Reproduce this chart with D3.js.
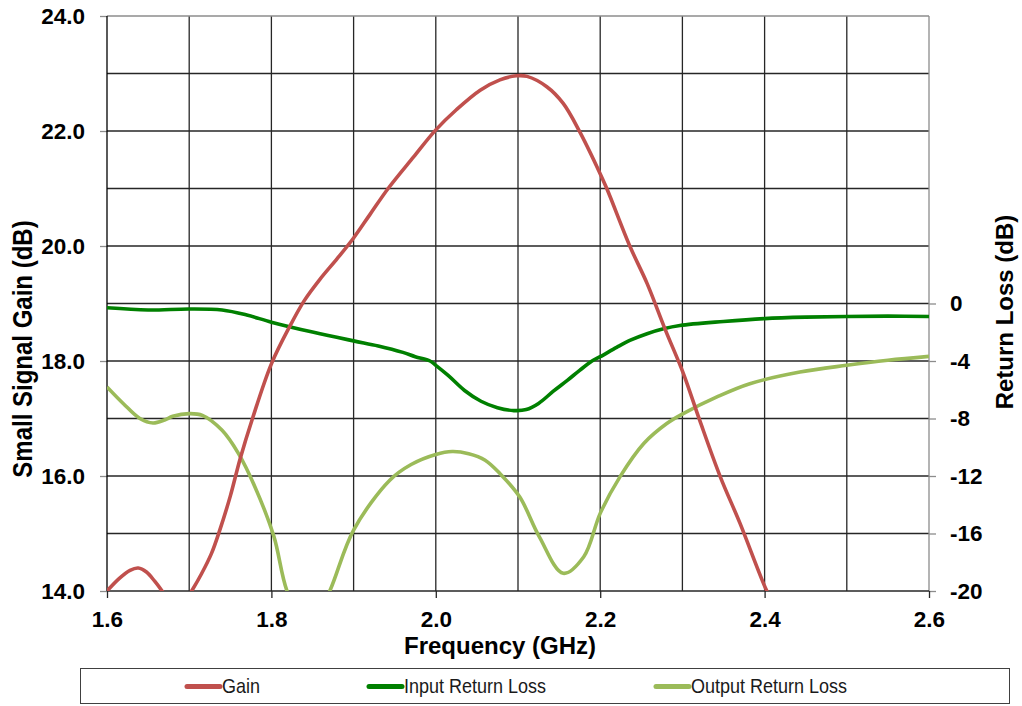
<!DOCTYPE html>
<html><head><meta charset="utf-8">
<script src="https://cdn.jsdelivr.net/npm/d3@7"></script>
<style>
body{margin:0;background:#fff;}
svg{display:block;font-family:"Liberation Sans",Arial,sans-serif;}
</style></head><body>
<svg id="c" width="1022" height="706"></svg>
<script>
// ---- data ----
const gainFreq = [1.600,1.615,1.628,1.638,1.648,1.658,1.668,1.685,1.703,1.715,1.727,1.737,1.750,1.762,1.777,1.800,1.823,1.840,1.859,1.880,1.900,1.920,1.942,1.973,2.000,2.025,2.054,2.078,2.098,2.111,2.135,2.155,2.175,2.196,2.208,2.236,2.257,2.279,2.301,2.321,2.346,2.370,2.402,2.420];
const gainVals = [14.00,14.22,14.36,14.40,14.33,14.17,13.98,13.60,14.00,14.30,14.65,15.05,15.65,16.30,17.00,17.95,18.62,19.05,19.42,19.78,20.14,20.55,21.00,21.55,22.02,22.37,22.71,22.89,22.96,22.95,22.77,22.48,21.99,21.38,21.00,20.00,19.35,18.55,17.79,16.97,15.99,15.18,14.02,13.50];

const inFreq = [1.60,1.65,1.70,1.74,1.77,1.80,1.85,1.90,1.93,1.96,1.975,1.993,2.000,2.015,2.035,2.055,2.075,2.095,2.110,2.125,2.143,2.160,2.175,2.190,2.200,2.220,2.236,2.257,2.277,2.297,2.35,2.40,2.45,2.50,2.55,2.60];
const inVals = [-0.30,-0.45,-0.38,-0.45,-0.80,-1.30,-1.99,-2.60,-2.95,-3.40,-3.70,-4.00,-4.30,-5.00,-6.05,-6.80,-7.25,-7.45,-7.38,-6.95,-6.10,-5.35,-4.65,-4.00,-3.70,-3.05,-2.57,-2.10,-1.76,-1.53,-1.25,-1.05,-0.95,-0.90,-0.88,-0.90];

const outFreq = [1.600,1.620,1.640,1.656,1.670,1.680,1.700,1.716,1.740,1.760,1.780,1.803,1.819,1.845,1.871,1.900,1.944,1.970,2.000,2.020,2.040,2.060,2.078,2.102,2.126,2.155,2.180,2.200,2.224,2.253,2.281,2.301,2.342,2.382,2.443,2.500,2.550,2.600];
const outVals = [-5.80,-6.97,-8.00,-8.31,-8.10,-7.85,-7.66,-7.78,-8.82,-10.44,-12.76,-16.20,-20.00,-23.00,-20.00,-15.76,-12.29,-11.20,-10.50,-10.30,-10.45,-10.90,-11.83,-13.45,-16.23,-18.77,-17.62,-14.60,-12.06,-9.74,-8.35,-7.66,-6.50,-5.58,-4.77,-4.30,-3.95,-3.68];

const xTickLabels = ["1.6","1.8","2.0","2.2","2.4","2.6"];
const yLeftTickLabels = ["14.0","16.0","18.0","20.0","22.0","24.0"];
const yRightTickLabels = ["-20","-16","-12","-8","-4","0"];
const seriesNames = ["Gain","Input Return Loss","Output Return Loss"];
const seriesColors = ["#C0504D","#008000","#9BBB59"];

// ---- layout ----
const L = 107, R = 929, T = 16, B = 591;
const svg = d3.select("#c");
const x = d3.scaleLinear().domain([1.6, 2.6]).range([L, R]);
const yL = d3.scaleLinear().domain([14, 24]).range([B, T]);
const yR = d3.scaleLinear().domain([-20, 20]).range([B, T]);

// grid
const grid = svg.append("g");
d3.range(15, 24, 1).forEach(v => {
  grid.append("line").attr("x1", L).attr("x2", R).attr("y1", yL(v)).attr("y2", yL(v))
    .attr("stroke", "#262626").attr("stroke-width", 1.3);
});
d3.range(1.7, 2.55, 0.1).forEach(v => {
  grid.append("line").attr("x1", x(v)).attr("x2", x(v)).attr("y1", T).attr("y2", B)
    .attr("stroke", "#262626").attr("stroke-width", 1.3);
});
grid.append("line").attr("x1", L).attr("x2", R).attr("y1", T).attr("y2", T).attr("stroke", "#8c8c8c").attr("stroke-width", 1.3);
grid.append("line").attr("x1", R).attr("x2", R).attr("y1", T).attr("y2", B).attr("stroke", "#8c8c8c").attr("stroke-width", 1.3);

// axes
const fmtL = d => yLeftTickLabels[Math.round((d - 14) / 2)];
const axL = svg.append("g").attr("transform", `translate(${L},0)`)
  .call(d3.axisLeft(yL).tickValues([14,16,18,20,22,24]).tickFormat(fmtL).tickSize(7).tickPadding(15));
const fmtR = d => yRightTickLabels[Math.round((d + 20) / 4)];
const axR = svg.append("g").attr("transform", `translate(${R},0)`)
  .call(d3.axisRight(yR).tickValues([-20,-16,-12,-8,-4,0]).tickFormat(fmtR).tickSize(7).tickPadding(14));
const fmtX = d => xTickLabels[Math.round((d - 1.6) / 0.2)];
const axB = svg.append("g").attr("transform", `translate(0,${B})`)
  .call(d3.axisBottom(x).tickValues([1.6,1.8,2.0,2.2,2.4,2.6]).tickFormat(fmtX).tickSize(7).tickPadding(13));

[axL, axR, axB].forEach(a => {
  a.selectAll(".domain").remove();
  a.selectAll("text").attr("font-size", 22.5).attr("font-weight", "bold").attr("fill", "#000")
    .attr("font-family", "'Liberation Sans',Arial,sans-serif");
  a.selectAll(".tick line").attr("stroke", "#8c8c8c").attr("stroke-width", 1.3);
});
axB.selectAll(".tick line").attr("stroke", "#262626");
svg.append("line").attr("x1", L).attr("x2", L).attr("y1", T).attr("y2", B).attr("stroke", "#000").attr("stroke-width", 1.3);
svg.append("line").attr("x1", L).attr("x2", R).attr("y1", B).attr("y2", B).attr("stroke", "#262626").attr("stroke-width", 1.3);

// titles
svg.append("text").attr("transform", `translate(32,349) rotate(-90) scale(1,1.12)`).attr("text-anchor", "middle")
  .attr("font-size", 24).attr("font-weight", "bold").text("Small Signal Gain (dB)");
svg.append("text").attr("transform", `translate(1013,312) rotate(-90)`).attr("text-anchor", "middle")
  .attr("font-size", 24).attr("font-weight", "bold").text("Return Loss (dB)");
svg.append("text").attr("x", 500).attr("y", 654).attr("text-anchor", "middle")
  .attr("font-size", 24).attr("font-weight", "bold").text("Frequency (GHz)");

// clip
svg.append("clipPath").attr("id", "clip").append("rect").attr("x", L).attr("y", T - 2).attr("width", R - L).attr("height", B - T + 2);

const plot = svg.append("g").attr("clip-path", "url(#clip)");
const mk = (fs, vs, ys) => fs.map((f, i) => [x(f), ys(vs[i])]);
const line = d3.line().curve(d3.curveCatmullRom.alpha(0.5));
const series = [mk(outFreq, outVals, yR), mk(inFreq, inVals, yR), mk(gainFreq, gainVals, yL)];
const colorsOrder = [seriesColors[2], seriesColors[1], seriesColors[0]];
series.forEach((pts, i) => {
  plot.append("path").attr("d", line(pts)).attr("fill", "none")
    .attr("stroke", colorsOrder[i]).attr("stroke-width", 3.6).attr("stroke-linejoin", "round");
});

// legend
svg.append("rect").attr("x", 80.5).attr("y", 668.5).attr("width", 929).attr("height", 35)
  .attr("fill", "#fff").attr("stroke", "#404040").attr("stroke-width", 1);
const legX = [187, 369, 656];
seriesNames.forEach((n, i) => {
  svg.append("line").attr("x1", legX[i]).attr("x2", legX[i] + 33).attr("y1", 686.5).attr("y2", 686.5)
    .attr("stroke", seriesColors[i]).attr("stroke-width", 5).attr("stroke-linecap", "round");
  svg.append("text").attr("transform", `translate(${legX[i] + 35},693) scale(0.9,1)`).attr("font-size", 20)
    .attr("fill", "#1a1a1a").text(n);
});
</script>
</body></html>
